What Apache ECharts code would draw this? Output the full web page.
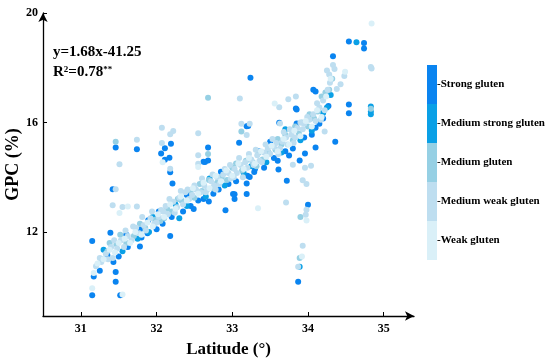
<!DOCTYPE html>
<html>
<head>
<meta charset="utf-8">
<script src="https://cdn.jsdelivr.net/npm/echarts@6/dist/echarts.min.js"></script>
<style>html,body{margin:0;padding:0;background:#fff}#c{width:550px;height:364px}</style>
</head>
<body>
<div id="c"></div>
<script>
// Category names (legend, top to bottom)
const gradeNames = ['Strong gluten','Medium strong gluten','Medium gluten','Medium weak gluten','Weak gluten'];
const xTicks = [31, 32, 33, 34, 35];
const yTicks = [12, 16, 20];

// [latitude, GPC] points, one array per gluten grade
const strongPts = [
 [31.15,11.67],[31.15,9.69],[31.52,9.69],[31.46,10.18],[31.46,10.54],[31.43,10.9],[31.25,10.58],[31.17,10.37],[31.39,11.97],
 [31.46,15.09],[31.74,15.02],[32.19,15.22],[32.11,15.06],[32.06,14.87],[32.17,14.71],[32.11,14.64],[32.18,14.18],
 [32.68,15.09],[32.68,14.61],[32.64,14.56],[33.19,15.86],[33.09,15.26],[31.42,13.56],[32.21,13.77],[31.78,12.09],
 [31.89,12.43],[31.78,11.47],[32.18,11.85],[32.49,12.84],[32.91,12.79],[33.03,13.38],[33.03,13.2],[33.19,13.39],
 [33.19,13.77],[32.69,13.11],[33.84,16.51],[33.62,15.99],[33.21,15.87],[33.85,15.96],[34.1,15.09],[33.96,14.87],
 [33.75,14.79],[33.89,14.61],[33.61,14.28],[33.29,14.19],[33.23,14.01],[33.72,13.87],[33.01,13.39],[34.0,12.99],
 [34.54,18.96],[34.74,18.9],[34.74,18.7],[34.33,18.42],[33.24,17.63],[34.54,16.66],[34.54,16.34],[34.36,15.3],
 [34.1,17.13],[34.07,17.2],[33.85,16.47],[34.1,15.81],[33.87,10.18],[32.62,14.57],
 [31.35,11.15],[31.5,11.1],[31.62,11.45],[31.8,11.8],[31.88,11.95],[32.0,12.1],[32.08,12.3],[32.2,12.55],[32.35,12.75],
 [32.45,12.95],[32.55,13.15],[32.62,13.2],[32.75,13.4],[32.82,13.55],[32.95,13.75],[33.05,13.85],[33.2,14.05],
 [33.3,14.3],[33.42,14.35],[33.55,14.7],[33.6,14.6],[33.7,14.95],[33.8,15.05],[33.95,15.45],[34.05,15.55],
 [34.15,15.95],[34.2,16.15],[34.27,16.6],[31.6,11.9],[32.03,12.75],[32.4,13.35],[32.85,14.2],[33.35,14.95],[33.5,15.3]
];
const medStrongPts = [
 [31.3,11.35],[31.55,11.3],[31.75,11.75],[31.95,12.55],[32.25,13.0],[32.4,12.95],[32.65,13.3],[32.9,13.7],[33.15,14.15],
 [33.45,14.55],[33.65,14.9],[33.9,15.35],[34.05,15.7],[34.2,16.35],[34.3,17.0],[34.83,16.58],[34.83,16.4],[34.83,16.3],
 [34.64,18.93],[33.89,10.73],[34.25,16.55],[33.7,15.75],[32.3,12.5],[31.9,12.0],[32.7,13.95],[33.25,14.4]
];
const mediumPts = [
 [31.28,11.0],[31.35,11.3],[31.47,11.55],[31.6,11.6],[31.7,11.85],[31.85,12.15],[31.98,12.45],[32.05,12.4],[32.14,12.85],
 [32.2,12.75],[32.33,13.15],[32.45,13.5],[32.5,13.25],[32.6,13.5],[32.69,13.9],[32.74,13.6],[32.86,14.0],[32.93,13.9],
 [33.0,14.35],[33.13,14.25],[33.18,14.6],[33.27,14.55],[33.35,14.9],[33.4,14.65],[33.48,14.9],[33.57,15.0],[33.65,15.2],
 [33.7,15.55],[33.8,15.35],[33.88,15.6],[33.92,16.0],[34.0,15.85],[34.08,16.15],[34.13,16.4],[34.18,16.95],[34.23,17.1],
 [34.28,17.2],[34.32,17.6],[32.68,14.85],[33.12,15.67],[32.68,16.9],[31.46,15.3],[33.89,11.05],[33.9,12.55],[34.83,16.5],
 [31.38,11.6],[31.52,11.9],[31.78,12.3],[32.1,12.5],[32.28,13.2],[32.57,13.75],[32.8,13.8],[33.05,14.5],[33.32,14.4],
 [33.6,15.4],[33.83,15.85],[34.02,16.3]
];
const medWeakPts = [
 [31.2,10.75],[31.25,11.05],[31.33,11.2],[31.4,11.45],[31.42,11.05],[31.48,11.4],[31.53,11.7],[31.57,11.45],[31.62,11.85],
 [31.67,11.7],[31.73,12.15],[31.77,11.95],[31.83,12.25],[31.86,12.05],[31.92,12.5],[31.97,12.3],[32.03,12.55],[32.06,12.8],
 [32.12,12.95],[32.15,12.65],[32.22,13.1],[32.27,12.9],[32.3,13.25],[32.35,13.0],[32.38,13.45],[32.43,13.2],[32.47,13.35],
 [32.52,13.55],[32.58,13.45],[32.63,13.7],[32.67,13.55],[32.72,13.85],[32.76,13.7],[32.8,14.0],[32.83,13.75],[32.88,14.1],
 [32.95,14.15],[32.98,13.95],[33.03,14.3],[33.06,14.15],[33.11,14.45],[33.17,14.55],[33.2,14.35],[33.25,14.65],[33.28,14.45],
 [33.33,14.8],[33.36,14.6],[33.42,14.9],[33.47,15.05],[33.5,14.85],[33.55,15.1],[33.58,15.25],[33.63,15.05],[33.66,15.3],
 [33.71,15.45],[33.73,15.2],[33.78,15.55],[33.83,15.45],[33.86,15.8],[33.93,15.75],[33.95,15.95],[34.02,16.1],[34.07,16.3],
 [34.1,16.05],[34.15,16.55],[34.2,16.8],[34.22,16.45],[34.26,17.2],[34.28,17.75],[34.33,18.1],[34.35,17.95],[34.29,17.45],
 [34.48,17.7],[34.43,17.4],[34.38,17.22],[33.1,16.88],[33.12,15.95],[33.23,15.95],[33.19,15.54],[32.07,15.81],[32.18,15.57],
 [32.22,15.69],[32.55,15.61],[31.74,15.37],[33.62,16.56],[33.74,16.85],[33.84,16.95],[33.63,15.96],[34.22,15.67],[33.96,14.35],
 [34.04,14.42],[33.93,13.89],[33.98,13.75],[33.8,14.46],[31.51,14.47],[31.46,13.56],[31.55,12.91],[31.74,12.93],[31.42,12.98],
 [32.55,14.8],[32.55,14.49],[32.18,14.31],[32.07,15.25],[33.71,13.08],[33.97,12.63],[33.98,12.81],[33.93,11.5],[33.87,10.73],
 [34.83,18.03],[34.84,17.97],[34.25,17.9],
 [31.27,10.9],[31.36,11.0],[31.44,11.7],[31.59,12.05],[31.69,12.2],[31.81,12.55],[31.94,12.75],[32.0,12.35],[32.09,12.75],
 [32.17,13.2],[32.24,12.7],[32.32,13.5],[32.41,13.55],[32.5,13.7],[32.6,13.95],[32.65,13.45],[32.74,14.1],[32.78,13.55],
 [32.9,14.3],[32.97,14.45],[33.02,14.0],[33.09,14.7],[33.14,14.0],[33.22,14.85],[33.31,15.0],[33.39,14.55],[33.44,15.2],
 [33.53,15.4],[33.61,14.85],[33.68,15.65],[33.76,15.75],[33.81,15.25],[33.9,16.0],[33.99,16.2],[34.12,16.7],[34.17,16.1]
];
const weakPts = [
 [31.15,9.94],[31.17,10.5],[31.22,10.85],[31.3,11.0],[31.38,11.35],[31.45,11.25],[31.5,11.6],[31.55,9.72],[31.58,11.75],
 [31.65,11.6],[31.72,12.0],[31.8,11.9],[31.88,12.35],[31.95,12.2],[32.02,12.65],[32.1,12.55],[32.18,13.0],[32.25,12.85],
 [32.32,13.3],[32.4,13.15],[32.48,13.6],[32.55,13.4],[32.62,13.8],[32.7,13.6],[32.78,14.05],[32.85,13.85],[32.92,14.25],
 [33.0,14.05],[33.08,14.5],[33.15,14.3],[33.22,14.7],[33.3,14.5],[33.38,14.95],[33.45,14.75],[33.52,15.15],[33.6,14.95],
 [33.68,15.4],[33.75,15.2],[33.82,15.7],[33.9,15.5],[33.97,16.05],[34.05,15.85],[34.12,16.45],[34.18,16.2],[34.24,16.95],
 [34.3,17.6],[34.84,19.62],[33.98,12.42],[33.92,11.1],[31.51,12.69],[32.08,14.55],[32.55,14.37],[33.34,12.87],[33.56,16.69],
 [34.49,17.85],[31.62,12.93]
];

const gradeColors = ['#0a84f0','#0aa0e6','#96d0e4','#bedef0','#daf0f8'];
const gradeData = [strongPts, medStrongPts, mediumPts, medWeakPts, weakPts];

const font = '"Liberation Serif", "Times New Roman", serif';
const chart = echarts.init(document.getElementById('c'), null, {renderer:'canvas'});

const series = gradeNames.map((n, i) => ({
  name: n,
  type: 'scatter',
  data: gradeData[i],
  symbolSize: 6,
  z: 2 + i,
  itemStyle: { color: gradeColors[i], opacity: 1 },
  emphasis: { disabled: true }
}));

chart.setOption({
  animation: false,
  grid: { left: 43, right: 136, top: 13, bottom: 48, outerBoundsMode: 'none', containLabel: false },
  xAxis: {
    type: 'value', min: 30.5, max: 35.4,
    name: 'Latitude (°)', nameLocation: 'middle', nameGap: 25, nameMoveOverlap: false,
    nameTextStyle: { fontFamily: font, fontWeight: 'bold', fontSize: 17, color: '#000' },
    axisLine: { show: true, onZero: false, symbol: ['none','arrow'], symbolSize: [7,9], lineStyle: { color: '#000', width: 1.3 } },
    axisTick: { show: true, inside: true, length: 4, customValues: xTicks, lineStyle: { color: '#000' } },
    axisLabel: { customValues: xTicks, margin: 7, fontFamily: font, fontWeight: 'bold', fontSize: 12, color: '#000' },
    splitLine: { show: false }
  },
  yAxis: {
    type: 'value', min: 8.93, max: 20,
    name: 'GPC (%)', nameLocation: 'middle', nameGap: 21, nameMoveOverlap: false,
    nameTextStyle: { fontFamily: font, fontWeight: 'bold', fontSize: 18, color: '#000' },
    axisLine: { show: true, onZero: false, symbol: ['none','arrow'], symbolSize: [7,9], lineStyle: { color: '#000', width: 1.3 } },
    axisTick: { show: true, inside: true, length: 4, customValues: yTicks, lineStyle: { color: '#000' } },
    axisLabel: { customValues: yTicks, margin: 5, fontFamily: font, fontWeight: 'bold', fontSize: 12, color: '#000' },
    splitLine: { show: false }
  },
  legend: {
    data: gradeNames,
    orient: 'vertical', left: 422, top: 60,
    itemWidth: 10, itemHeight: 39, itemGap: 0, icon: 'rect',
    selectedMode: false,
    formatter: '-{name}',
    itemStyle: { opacity: 1 },
    textStyle: { fontFamily: font, fontWeight: 'bold', fontSize: 11, color: '#000', padding: [0,0,0,-5] }
  },
  graphic: [
    { type: 'text', left: 53, top: 45, style: { text: 'y=1.68x-41.25', font: 'bold 15px ' + font, fill: '#000' } },
    { type: 'text', left: 53, top: 65, style: {
        text: '{a|R}{s|2}{a|=0.78}{s|**}',
        rich: { a: { font: 'bold 15px ' + font, fill: '#000' }, s: { font: 'bold 9px ' + font, fill: '#000', verticalAlign: 'top' } }
    } }
  ],
  series: series
});
</script>
</body>
</html>
